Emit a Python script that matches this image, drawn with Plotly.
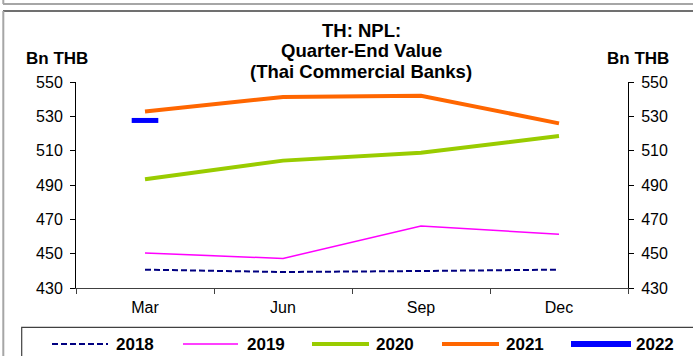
import plotly.graph_objects as go

# Quarter-end NPL values, Thai commercial banks (Bn THB)
quarters = ["Mar", "Jun", "Sep", "Dec"]
npl_2018 = [440.7, 439.3, 439.9, 440.7]
npl_2019 = [450.4, 447.2, 466.1, 461.3]
npl_2020 = [493.4, 504.2, 508.8, 518.5]
npl_2021 = [532.8, 541.3, 542.0, 525.9]
npl_2022 = [527.6]
series_names = ["2018", "2019", "2020", "2021", "2022"]
y_ticks = [430, 450, 470, 490, 510, 530, 550]

W, H = 693, 356
ML, MR, MT, MB = 76, 65, 82, 68
PW, PH = W - ML - MR, H - MT - MB


def px(x):
    return (x - ML) / PW


def py(y):
    return 1 - (y - MT) / PH


FONT = "Liberation Sans, Arial, sans-serif"

styles = [
    dict(color="#000080", width=2, dash="6px,3px"),
    dict(color="#FF00FF", width=1.5, dash="solid"),
    dict(color="#99CC00", width=4, dash="solid"),
    dict(color="#FF6600", width=4, dash="solid"),
    dict(color="#0000FF", width=6, dash="solid"),
]

fig = go.Figure()
for name, vals, st in zip(series_names[:4], [npl_2018, npl_2019, npl_2020, npl_2021], styles[:4]):
    fig.add_trace(go.Scatter(
        x=quarters[:len(vals)], y=vals, mode="lines", name=name,
        line=dict(color=st["color"], width=st["width"], dash=st["dash"]),
        showlegend=False,
    ))
fig.add_trace(go.Scatter(
    x=quarters[:len(npl_2022)], y=npl_2022, mode="markers", name="2022",
    marker=dict(symbol="line-ew", size=19,
                line=dict(color=styles[4]["color"], width=5)),
    showlegend=False,
))
# invisible trace to activate right axis
fig.add_trace(go.Scatter(x=quarters[:1], y=[y_ticks[0]], yaxis="y2",
                         mode="markers", marker=dict(opacity=0),
                         showlegend=False, hoverinfo="skip"))

shapes = []
# panel borders
shapes.append(dict(type="line", xref="paper", yref="paper",
                   x0=px(3), x1=px(700), y0=py(4), y1=py(4),
                   line=dict(color="#A6A6A6", width=2)))
shapes.append(dict(type="line", xref="paper", yref="paper",
                   x0=px(3.3), x1=px(3.3), y0=py(-2), y1=py(4),
                   line=dict(color="#A6A6A6", width=2)))
shapes.append(dict(type="line", xref="paper", yref="paper",
                   x0=px(3), x1=px(700), y0=py(11), y1=py(11),
                   line=dict(color="#404040", width=1.5)))
shapes.append(dict(type="line", xref="paper", yref="paper",
                   x0=px(3.3), x1=px(3.3), y0=py(11), y1=py(360),
                   line=dict(color="#A6A6A6", width=2)))
# legend box
shapes.append(dict(type="rect", xref="paper", yref="paper",
                   x0=px(21.7), x1=px(710), y0=py(327.3), y1=py(370),
                   line=dict(color="#404040", width=1.2)))

annotations = []
leg_line_x = [(52, 108), (183, 238), (312, 369), (442, 499), (571, 631)]
leg_text_x = [114, 245, 374, 504, 634]
leg_y = 344
for name, st, (a, b), tx in zip(series_names, styles, leg_line_x, leg_text_x):
    shapes.append(dict(type="line", xref="paper", yref="paper",
                       x0=px(a), x1=px(b), y0=py(leg_y), y1=py(leg_y),
                       line=dict(color=st["color"], width=st["width"], dash=st["dash"])))
    annotations.append(dict(text="<b>%s</b>" % name, xref="paper", yref="paper",
                            x=px(tx), y=py(leg_y), xanchor="left", yanchor="middle",
                            showarrow=False, font=dict(family=FONT, size=17, color="black")))

for text, y in [("TH: NPL:", 30), ("Quarter-End Value", 50), ("(Thai Commercial Banks)", 71)]:
    annotations.append(dict(text="<b>%s</b>" % text, xref="paper", yref="paper",
                            x=px(361), y=py(y), xanchor="center", yanchor="middle",
                            showarrow=False, font=dict(family=FONT, size=18.5, color="black")))
for xc in (57, 638):
    annotations.append(dict(text="<b>Bn THB</b>", xref="paper", yref="paper",
                            x=px(xc), y=py(58), xanchor="center", yanchor="middle",
                            showarrow=False, font=dict(family=FONT, size=17, color="black")))

axis_font = dict(family=FONT, size=16, color="black")
fig.update_layout(
    width=W, height=H,
    margin=dict(l=ML, r=MR, t=MT, b=MB, pad=0),
    paper_bgcolor="white", plot_bgcolor="white",
    showlegend=False,
    xaxis=dict(type="category", categoryorder="array", categoryarray=quarters,
               range=[-0.5, len(quarters) - 0.5], tickson="boundaries",
               ticks="outside", ticklen=5, tickcolor="#404040",
               showline=True, linecolor="#404040", linewidth=1,
               showgrid=False, zeroline=False, tickfont=axis_font,
               ticklabelstandoff=5),
    yaxis=dict(range=[y_ticks[0], y_ticks[-1]], tickvals=y_ticks,
               ticks="outside", ticklen=5, tickcolor="black",
               showline=True, linecolor="black", linewidth=1,
               showgrid=False, zeroline=False, tickfont=axis_font,
               ticklabelstandoff=4),
    yaxis2=dict(range=[y_ticks[0], y_ticks[-1]], tickvals=y_ticks, overlaying="y",
                side="right", ticks="outside", ticklen=5, tickcolor="black",
                showline=True, linecolor="black", linewidth=1,
                showgrid=False, zeroline=False, tickfont=axis_font,
                ticklabelstandoff=4),
    shapes=shapes,
    annotations=annotations,
)

fig.write_html("out.html")
